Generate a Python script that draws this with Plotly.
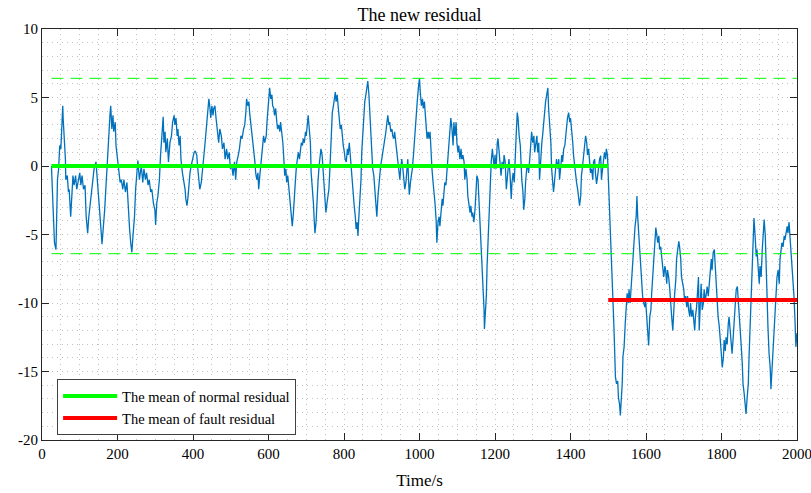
import plotly.graph_objects as go

# ---- data: (time in s, residual) ----
seg_0_260 = [(25,0),(30,-4.4),(33,-5.6),(37,-6.1),(39,-3.2),(41,-1.0),(44,-0.2),(47,1.5),(50,1.25),(53,3.0),(55,4.4),(56,3.5),(59,2.0),(62,0.5),(63,-1.0),(67,-0.7),(70,-1.9),(72,-1.7),(76,-3.7),(78,-2.7),(82,-0.7),(85,-1.4),(89,-0.7),(92,-1.7),(96,-1.0),(100,-0.5),(103,-1.4),(106,-0.7),(110,-1.7),(114,-1.4),(117,-3.7),(121,-4.9),(124,-3.7),(128,-2.7),(131,-2.2),(135,-1.2),(138,-0.2),(143,0.3),(146,-0.7),(150,-2.2),(153,-3.2),(157,-4.9),(159,-5.7),(163,-4.4),(166,-3.2),(170,-1.2),(173,0.8),(177,2.2),(180,3.7),(182,4.4),(185,2.7),(188,3.7),(190,2.5),(194,3.2),(196,1.5),(200,0.5),(203,-0.5),(207,-1.2),(210,-1.0),(214,-1.7),(217,-1.0),(221,-1.9),(225,-1.2),(228,-3.2),(232,-4.6),(235,-5.6),(238,-6.3),(241,-5.1),(245,-3.7),(248,-1.7),(252,0),(254,0.4),(258,-1.0)]
seg_260_515 = [(260,-0.7),(263,0),(267,-1.2),(270,-0.2),(274,-1.0),(277,-0.5),(281,-1.4),(284,-1.0),(288,-1.9),(291,-1.7),(295,-2.7),(299,-3.2),(301,-4.3),(304,-2.7),(307,-2.2),(311,-1.0),(314,0.8),(318,2.5),(321,3.6),(323,1.7),(326,2.5),(328,1.0),(332,2.0),(335,0.3),(339,1.7),(343,2.2),(346,3.2),(350,3.7),(352,3.0),(355,3.5),(358,2.2),(360,2.7),(363,1.5),(366,2.2),(368,0.5),(372,-0.5),(375,-1.0),(379,-1.7),(381,-2.4),(384,-2.9),(387,-2.2),(389,-1.2),(392,-0.5),(395,0),(399,0.5),(403,1.0),(406,1.1),(410,0.8),(412,0),(415,-1.0),(418,-1.7),(422,-1.2),(425,-0.5),(429,0.8),(432,1.7),(436,3.0),(440,4.2),(442,4.9),(445,4.2),(447,3.5),(450,4.4),(453,3.7),(455,4.2),(458,4.4),(461,3.5),(464,2.5),(468,1.7),(471,2.7),(475,2.2),(478,1.25),(482,1.7),(485,0.5),(489,1.25),(492,0.5),(496,1.0),(499,-0.2),(503,0),(506,-0.7),(510,0.3),(513,-1.0)]
seg_515_765 = [(516,0.3),(520,0.8),(523,1.25),(527,2.2),(530,2.0),(534,2.7),(537,3.0),(540,3.9),(542,4.9),(545,4.4),(548,4.7),(550,3.9),(553,3.2),(556,2.2),(558,1.7),(561,1.25),(564,0.3),(566,-0.5),(569,-1.0),(572,-0.5),(574,-1.7),(577,-0.7),(580,0.3),(582,1.0),(585,1.7),(587,2.2),(590,1.7),(594,2.2),(596,3.2),(599,4.2),(601,4.7),(603,5.7),(606,4.9),(609,5.2),(611,4.4),(614,4.2),(616,3.7),(619,4.2),(622,3.2),(624,2.7),(627,3.0),(630,2.5),(632,3.2),(635,2.5),(638,1.7),(640,0.8),(643,-0.7),(646,-0.2),(648,-1.2),(651,-0.7),(654,-1.7),(656,-1.9),(659,-2.7),(661,-3.4),(663,-4.4),(666,-3.4),(668,-2.2),(671,-1.2),(674,0),(676,0.5),(679,1.0),(682,0.5),(684,1.25),(687,1.7),(690,1.5),(692,2.0),(695,1.7),(698,2.5),(700,2.2),(703,3.2),(705,3.7),(708,2.7),(711,1.7),(713,-0.5),(716,-1.4),(719,-2.7),(721,-3.9),(723,-4.9),(726,-4.1),(728,-2.7),(731,-1.2),(734,0),(736,0.8),(739,1.25),(742,0.8),(744,-0.2),(747,-1.7),(750,-2.7),(752,-3.4),(755,-2.7),(757,-2.2),(760,-1.7),(763,0)]
seg_765_1018 = [(766,2.2),(769,3.9),(772,4.4),(774,4.9),(777,5.4),(779,4.7),(782,5.2),(785,4.2),(787,3.7),(790,2.7),(793,3.0),(795,2.2),(798,1.5),(801,1.0),(803,0.5),(806,0.3),(809,1.25),(811,0.8),(814,1.7),(816,1.0),(819,-0.2),(822,-0.7),(824,-1.9),(827,-2.9),(830,-3.7),(832,-4.6),(835,-4.1),(837,-5.1),(839,-3.9),(842,-2.7),(845,-1.0),(847,1.0),(850,2.7),(853,3.9),(855,4.7),(858,5.2),(860,5.7),(863,6.2),(866,5.2),(868,3.9),(871,2.2),(874,0.8),(876,-0.2),(879,-0.7),(882,-1.7),(884,-2.7),(887,-3.7),(890,-2.2),(892,-1.4),(895,-0.5),(897,0),(900,0.5),(903,1.0),(905,1.25),(908,2.0),(911,2.5),(913,3.0),(916,3.7),(919,3.0),(921,3.2),(924,2.5),(927,2.7),(929,2.2),(932,2.0),(934,2.5),(937,1.7),(940,1.0),(942,0.3),(945,-0.5),(948,-1.0),(950,-0.2),(953,0.5),(956,-0.2),(958,-1.0),(961,-1.7),(964,-1.2),(966,-0.2),(969,0.5),(971,-1.0),(973,-2.1),(976,-1.2),(979,-0.7),(981,-0.2),(984,0.8),(986,1.7),(989,3.0),(992,3.9),(994,4.7),(997,5.7),(1000,6.4),(1002,5.4),(1005,4.4),(1008,4.9),(1010,4.2),(1013,4.7),(1016,3.5)]
seg_1018_1268 = [(1020,2.0),(1023,2.5),(1025,2.0),(1028,2.5),(1030,1.0),(1033,-0.2),(1036,-1.2),(1038,-2.2),(1041,-2.7),(1044,-3.9),(1046,-5.6),(1049,-4.1),(1052,-3.7),(1054,-4.4),(1057,-3.2),(1060,-2.4),(1062,-2.9),(1065,-1.9),(1067,-1.2),(1070,-1.4),(1073,-0.2),(1075,1.0),(1078,2.2),(1081,3.2),(1083,3.5),(1086,2.7),(1089,1.5),(1091,3.2),(1094,2.2),(1097,3.2),(1099,1.7),(1102,1.0),(1104,1.5),(1107,0.5),(1110,1.25),(1112,0.5),(1115,0.8),(1118,0.3),(1120,-1.0),(1123,-0.2),(1126,-1.0),(1128,-2.2),(1131,-2.7),(1134,-3.4),(1136,-2.9),(1139,-3.7),(1141,-3.4),(1144,-4.1),(1147,-3.2),(1149,-1.9),(1152,-0.7),(1155,-1.0),(1157,-2.2),(1160,-3.4),(1163,-5.4),(1165,-7.1),(1168,-8.6),(1171,-10.5),(1172,-11.9),(1174,-11.0),(1177,-9.5),(1179,-7.3),(1182,-5.1),(1185,-3.2),(1187,-1.2),(1190,0.3),(1193,1.25),(1195,0.5),(1198,-0.2),(1200,0.8),(1203,-0.2),(1206,1.7),(1208,2.0),(1211,1.0),(1214,-0.2),(1216,-0.7),(1219,0.3),(1222,-0.2),(1224,0.8),(1227,0.3),(1230,-1.7),(1232,-1.0),(1235,-0.2),(1237,0.5),(1240,-0.7),(1243,-2.4),(1245,-1.2),(1248,-0.5),(1251,-1.2),(1253,0.8),(1256,2.2),(1259,3.9),(1261,3.5),(1264,2.2),(1267,1.5)]
seg_1268_1478 = [(1271,-1.0),(1274,-1.9),(1276,-3.2),(1279,-2.4),(1281,-1.2),(1284,-0.2),(1287,0),(1289,-0.5),(1292,0.5),(1295,1.7),(1297,2.5),(1300,1.7),(1303,2.2),(1305,1.0),(1308,1.5),(1311,2.2),(1313,1.0),(1316,1.7),(1318,-1.0),(1321,1.0),(1324,1.7),(1326,2.2),(1329,3.2),(1332,3.9),(1334,4.7),(1337,5.2),(1340,5.7),(1342,4.2),(1345,3.0),(1348,1.7),(1350,-0.2),(1353,-1.2),(1355,-1.9),(1358,-1.0),(1361,0.3),(1363,0.5),(1366,-0.2),(1369,0.5),(1371,-1.0),(1374,0),(1377,0.8),(1379,0.3),(1382,1.25),(1385,1.5),(1387,2.2),(1390,2.7),(1392,3.5),(1395,3.9),(1398,3.2),(1400,3.5),(1403,2.7),(1406,1.7),(1408,0.8),(1411,0),(1414,-1.0),(1416,-1.2),(1419,-1.7),(1422,-2.4),(1424,-2.9),(1427,-2.2),(1429,-0.7),(1432,0),(1435,0.8),(1437,1.5),(1440,2.2),(1443,1.7),(1445,0.8),(1448,1.25),(1451,0.5),(1453,-0.5),(1456,-0.2),(1459,-1.0),(1461,0.3),(1464,0.5),(1466,-0.5),(1469,-1.3),(1472,-0.7),(1474,-0.2),(1477,0.5)]
seg_1478_1740 = [(1480,0.75),(1482,-1.0),(1485,-0.2),(1487,0.3),(1490,1.0),(1493,0.5),(1495,1.25),(1498,0.75),(1500,-0.7),(1503,-2.4),(1506,-4.1),(1509,-6.1),(1511,-8.1),(1513,-9.8),(1515,-11.7),(1517,-13.5),(1519,-15.4),(1522,-15.9),(1525,-15.7),(1527,-16.9),(1530,-17.4),(1532,-18.2),(1534,-17.4),(1537,-15.9),(1539,-13.9),(1542,-13.2),(1545,-11.5),(1547,-10.5),(1550,-9.3),(1553,-10.0),(1555,-9.0),(1558,-10.0),(1561,-8.6),(1563,-7.3),(1566,-6.1),(1568,-5.1),(1571,-4.4),(1574,-3.7),(1576,-2.2),(1578,-3.7),(1581,-4.9),(1583,-6.1),(1586,-7.6),(1589,-8.6),(1591,-9.5),(1594,-10.0),(1597,-10.3),(1599,-9.8),(1602,-11.0),(1605,-12.0),(1607,-13.1),(1610,-11.0),(1613,-10.5),(1615,-9.3),(1618,-8.1),(1620,-6.6),(1623,-5.4),(1626,-4.5),(1628,-4.9),(1631,-5.6),(1634,-5.1),(1636,-6.1),(1639,-5.9),(1642,-7.1),(1644,-7.3),(1647,-8.1),(1650,-7.3),(1652,-7.6),(1655,-8.6),(1657,-7.6),(1660,-8.1),(1663,-9.0),(1665,-10.3),(1668,-11.0),(1671,-12.0),(1673,-10.5),(1676,-9.3),(1679,-8.3),(1681,-6.8),(1684,-6.1),(1687,-5.5),(1689,-5.9),(1692,-6.8),(1694,-8.1),(1697,-8.6),(1700,-9.0),(1702,-9.8),(1705,-9.5),(1708,-10.3),(1710,-9.5),(1713,-10.5),(1716,-11.0),(1718,-10.0),(1721,-11.0),(1724,-10.5),(1726,-11.5),(1729,-12.0),(1731,-11.0),(1734,-10.3),(1737,-9.0),(1739,-8.1)]
seg_1740_2000 = [(1741,-12.0),(1744,-9.8),(1746,-8.6),(1749,-10.5),(1752,-10.0),(1754,-9.0),(1757,-9.8),(1760,-9.3),(1762,-8.8),(1765,-9.5),(1768,-8.3),(1770,-7.3),(1773,-6.8),(1775,-7.6),(1778,-6.3),(1781,-6.1),(1783,-7.1),(1786,-8.8),(1789,-10.3),(1791,-11.0),(1794,-11.7),(1797,-12.5),(1799,-13.5),(1802,-14.7),(1805,-14.0),(1807,-12.7),(1810,-13.5),(1812,-12.5),(1815,-13.0),(1818,-11.5),(1820,-11.0),(1823,-12.0),(1826,-13.0),(1828,-13.7),(1831,-12.5),(1834,-11.0),(1836,-10.0),(1839,-9.0),(1842,-8.8),(1844,-9.5),(1847,-11.0),(1849,-11.5),(1852,-13.0),(1855,-14.4),(1857,-15.9),(1860,-16.6),(1863,-17.6),(1865,-18.1),(1868,-16.9),(1871,-15.9),(1873,-13.9),(1876,-11.5),(1879,-8.6),(1881,-6.8),(1884,-5.1),(1886,-3.8),(1889,-5.1),(1892,-6.6),(1894,-6.1),(1897,-7.6),(1900,-8.6),(1902,-7.3),(1905,-8.1),(1908,-6.1),(1910,-4.9),(1913,-3.9),(1916,-5.1),(1918,-7.3),(1921,-9.5),(1923,-11.7),(1926,-13.7),(1929,-14.7),(1931,-16.3),(1934,-14.7),(1937,-13.5),(1939,-12.5),(1942,-11.0),(1945,-9.5),(1947,-8.1),(1950,-7.6),(1953,-8.6),(1955,-6.8),(1958,-6.1),(1960,-5.6),(1963,-5.9),(1966,-5.1),(1968,-5.4),(1971,-4.9),(1974,-4.4),(1976,-4.9),(1979,-4.1),(1982,-5.4),(1984,-6.1),(1987,-7.1),(1989,-8.3),(1992,-9.5),(1995,-11.5),(1997,-13.2),(2000,-12.2)]

segments = [seg_0_260, seg_260_515, seg_515_765, seg_765_1018,
            seg_1018_1268, seg_1268_1478, seg_1478_1740, seg_1740_2000]
time_s = [p[0] for s in segments for p in s]
residual = [p[1] for s in segments for p in s]

normal_span = [25, 1500]
fault_span = [1500, 2000]
normal_mean = 0.0
fault_mean = -9.78
threshold = 6.4
threshold_span = [25, 2000]

x_ticks = list(range(0, 2001, 200))
y_ticks = [-20, -15, -10, -5, 0, 5, 10]
y_tick_text = ["-20", "-15", "-10", "-5", "0", "5", "10"]

FONT = "Liberation Serif"
AX = "#262626"
GRID = "#c2c2c2"
GDASH = "1px,4px"

fig = go.Figure()
fig.add_trace(go.Scatter(x=time_s, y=residual, mode="lines",
                         line=dict(color="#0072BD", width=1.3), showlegend=False))
for sign in (1, -1):
    fig.add_trace(go.Scatter(x=threshold_span, y=[sign * threshold] * 2, mode="lines",
                             line=dict(color="#00FF00", width=1, dash="12px,7px"),
                             showlegend=False))
fig.add_trace(go.Scatter(x=normal_span, y=[normal_mean] * 2, mode="lines",
                         line=dict(color="#00FF00", width=4),
                         name="The mean of normal residual"))
fig.add_trace(go.Scatter(x=fault_span, y=[fault_mean] * 2, mode="lines",
                         line=dict(color="#FF0000", width=4),
                         name="The mean of fault residual"))

axis_common = dict(showline=True, linecolor=AX, linewidth=1, mirror="ticks",
                   ticks="inside", ticklen=7, tickcolor=AX, zeroline=False,
                   showgrid=True, gridcolor=GRID, griddash=GDASH, gridwidth=1,
                   ticklabeloverflow="allow", automargin=False,
                   tickfont=dict(family=FONT, size=15, color="#000000"))

fig.update_layout(
    width=811, height=493,
    margin=dict(l=42, r=14, t=29, b=53, autoexpand=False),
    paper_bgcolor="white", plot_bgcolor="white",
    font=dict(family=FONT, color="#000000"),
    title=dict(text="The new residual", x=0.5, xref="paper", y=1 - 15 / 493,
               yref="container", xanchor="center", yanchor="middle",
               font=dict(family=FONT, size=18, color="#000000")),
    xaxis=dict(range=[0, 2000], tickvals=x_ticks,
               minor=dict(dtick=50, showgrid=True, gridcolor=GRID, griddash=GDASH, ticks=""),
               title=dict(text="Time/s", font=dict(family=FONT, size=17), standoff=13),
               **axis_common),
    yaxis=dict(range=[-20, 10], tickvals=y_ticks, ticktext=y_tick_text,
               minor=dict(dtick=1, showgrid=True, gridcolor=GRID, griddash=GDASH, ticks=""),
               **axis_common),
    legend=dict(x=0.02, y=0.148, xanchor="left", yanchor="top",
                bgcolor="white", bordercolor="#404040", borderwidth=1,
                font=dict(family=FONT, size=14.5, color="#000000"),
                itemwidth=54, tracegroupgap=0),
    showlegend=True,
)

fig.write_html("out.html")
